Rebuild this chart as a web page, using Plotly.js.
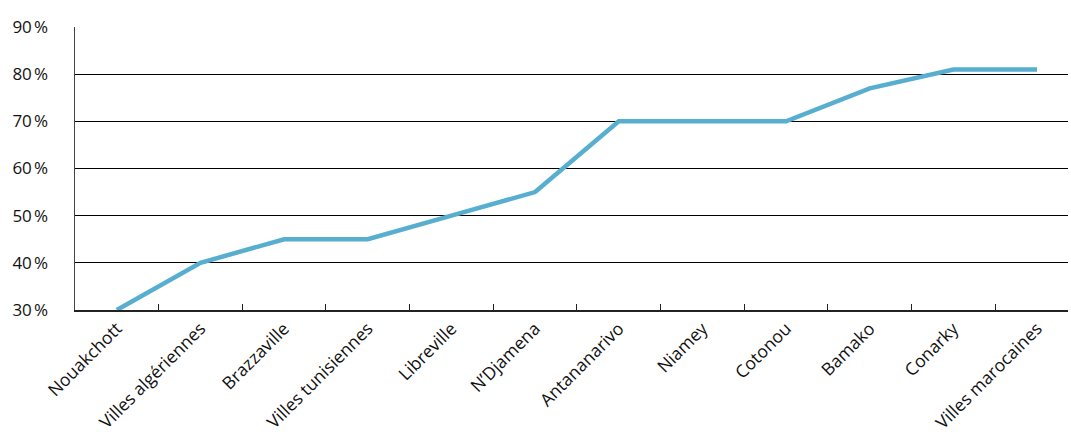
<!DOCTYPE html>
<html>
<head>
<meta charset="utf-8">
<script src="https://cdn.plot.ly/plotly-3.0.1.min.js"></script>
<style>html,body{margin:0;padding:0;background:#fff;}#chart{width:1071px;height:445px;}</style>
</head>
<body>
<div id="chart"></div>
<script>
const categories = ["Nouakchott", "Villes algériennes", "Brazzaville", "Villes tunisiennes", "Libreville", "N\u2019Djamena", "Antananarivo", "Niamey", "Cotonou", "Bamako", "Conarky", "Villes marocaines"];
const values = [30, 40, 45, 45, 50, 55, 70, 70, 70, 77, 81, 81];
const yTickVals = [30, 40, 50, 60, 70, 80, 90];
const yTickText = ["30\u202f%", "40\u202f%", "50\u202f%", "60\u202f%", "70\u202f%", "80\u202f%", "90\u202f%"];

const xFont = {family: "Open Sans, Lato, sans-serif", size: 17.5, color: "#111"};
const yFont = {family: "Open Sans, Lato, sans-serif", size: 17, color: "#111"};

Plotly.newPlot("chart", [{
  type: "scatter",
  mode: "lines",
  x: categories,
  y: values,
  line: {color: "#58aecf", width: 4.5},
  cliponaxis: false,
  hoverinfo: "skip"
}], {
  width: 1071,
  height: 445,
  margin: {l: 75, r: 3, t: 27, b: 135},
  paper_bgcolor: "#fff",
  plot_bgcolor: "#fff",
  showlegend: false,
  font: xFont,
  xaxis: {
    type: "category",
    range: [-0.5, 11.37],
    tickangle: -45,
    tickson: "boundaries",
    ticks: "inside",
    ticklen: 6,
    tickcolor: "#222",
    showgrid: false,
    showline: true,
    linecolor: "#222",
    linewidth: 1.5,
    zeroline: false,
    tickfont: xFont
  },
  yaxis: {
    range: [30, 90],
    tickvals: yTickVals,
    ticktext: yTickText,
    showgrid: true,
    gridcolor: "#000",
    gridwidth: 1,
    showline: true,
    linecolor: "#444",
    linewidth: 1.5,
    zeroline: false,
    ticks: "",
    ticklabelstandoff: 22,
    tickfont: yFont
  }
}, {displayModeBar: false, staticPlot: true});
</script>
</body>
</html>
